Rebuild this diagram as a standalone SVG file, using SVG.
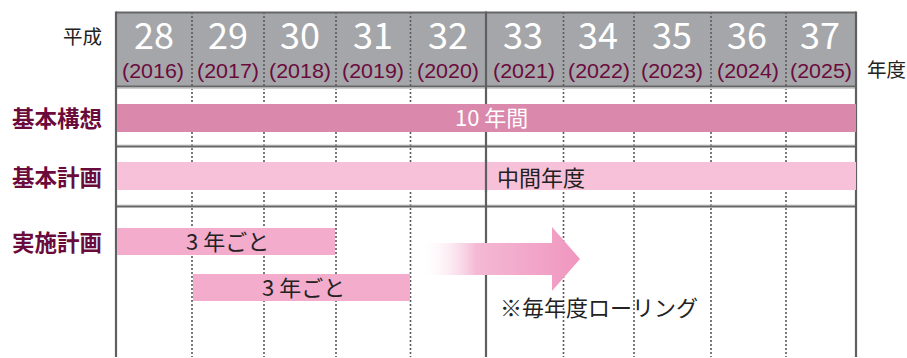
<svg xmlns="http://www.w3.org/2000/svg" width="907" height="358" viewBox="0 0 907 358">
<style>
.jp{font-family:"Noto Sans CJK JP","Noto Sans",sans-serif}
.num{font-family:"Noto Sans CJK JP","Noto Sans",sans-serif;font-size:36px;fill:#ffffff;text-anchor:middle}
.yr{font-family:"Liberation Sans",Arial,sans-serif;font-size:20.5px;fill:#6b0b3c;text-anchor:middle}
.lbl{font-family:"Noto Sans CJK JP",sans-serif;font-size:22.5px;font-weight:bold;fill:#6b0b3c}
.dot{stroke:#5a5a5a;stroke-width:1.6;stroke-dasharray:2 2;fill:none}
.solid{stroke:#5f5f5f;stroke-width:2.2;fill:none}
.hline{stroke:#666;stroke-width:2;fill:none}
.lite{stroke:#cfcfcf;stroke-width:1;fill:none}
.t{font-family:"Noto Sans CJK JP",sans-serif;font-size:22px}
</style>
<defs>
<linearGradient id="ag" gradientUnits="userSpaceOnUse" x1="420" y1="0" x2="580" y2="0">
<stop offset="0" stop-color="#ffffff" stop-opacity="0"/>
<stop offset="0.35" stop-color="#f4b9d4"/>
<stop offset="1" stop-color="#f096bf"/>
</linearGradient>
</defs>
<g id="header">
<rect x="116" y="12" width="740" height="75" fill="#a5a6aa"/>
</g>
<g id="grid">
<line class="dot" x1="192" y1="12" x2="192" y2="357"/>
<line class="dot" x1="264" y1="12" x2="264" y2="357"/>
<line class="dot" x1="336" y1="12" x2="336" y2="357"/>
<line class="dot" x1="410.5" y1="12" x2="410.5" y2="357"/>
<line class="dot" x1="563.5" y1="12" x2="563.5" y2="357"/>
<line class="dot" x1="634" y1="12" x2="634" y2="357"/>
<line class="dot" x1="711" y1="12" x2="711" y2="357"/>
<line class="dot" x1="786" y1="12" x2="786" y2="357"/>
<line class="lite" x1="116" y1="88.5" x2="856" y2="88.5"/>
<line class="lite" x1="116" y1="145" x2="856" y2="145"/>
<line class="lite" x1="116" y1="205" x2="856" y2="205"/>
<line class="hline" x1="116" y1="12.5" x2="856" y2="12.5"/>
<line class="hline" x1="116" y1="86.5" x2="856" y2="86.5"/>
<line class="hline" x1="116" y1="146.5" x2="856" y2="146.5"/>
<line class="hline" x1="116" y1="206.5" x2="856" y2="206.5"/>
<line class="solid" x1="116" y1="11.5" x2="116" y2="357"/>
<line class="solid" x1="856" y1="11.5" x2="856" y2="357"/>
<line class="solid" x1="486" y1="11.5" x2="486" y2="357"/>
</g>
<g id="years">
<text class="num" x="154" y="48.5">28</text><text class="yr" x="153" y="78" textLength="62" lengthAdjust="spacingAndGlyphs">(2016)</text>
<text class="num" x="228" y="48.5">29</text><text class="yr" x="228" y="78" textLength="62" lengthAdjust="spacingAndGlyphs">(2017)</text>
<text class="num" x="300" y="48.5">30</text><text class="yr" x="300" y="78" textLength="62" lengthAdjust="spacingAndGlyphs">(2018)</text>
<text class="num" x="373" y="48.5">31</text><text class="yr" x="373" y="78" textLength="62" lengthAdjust="spacingAndGlyphs">(2019)</text>
<text class="num" x="448" y="48.5">32</text><text class="yr" x="448" y="78" textLength="62" lengthAdjust="spacingAndGlyphs">(2020)</text>
<text class="num" x="523" y="48.5">33</text><text class="yr" x="524" y="78" textLength="62" lengthAdjust="spacingAndGlyphs">(2021)</text>
<text class="num" x="598" y="48.5">34</text><text class="yr" x="599" y="78" textLength="62" lengthAdjust="spacingAndGlyphs">(2022)</text>
<text class="num" x="672" y="48.5">35</text><text class="yr" x="672" y="78" textLength="62" lengthAdjust="spacingAndGlyphs">(2023)</text>
<text class="num" x="747" y="48.5">36</text><text class="yr" x="748" y="78" textLength="62" lengthAdjust="spacingAndGlyphs">(2024)</text>
<text class="num" x="820" y="48.5">37</text><text class="yr" x="821" y="78" textLength="62" lengthAdjust="spacingAndGlyphs">(2025)</text>
<text class="jp" x="63" y="44" font-size="19.5" fill="#222">平成</text>
<text class="jp" x="867" y="77" font-size="19.5" fill="#222">年度</text>
</g>
<g id="kihon-koso">
<text class="lbl" x="12" y="127">基本構想</text>
<rect x="117" y="104" width="739" height="28" fill="#da88ab"/>
<text class="t" x="455" y="126" font-size="21" fill="#ffffff">10 年間</text>
</g>
<g id="kihon-keikaku">
<text class="lbl" x="12" y="186">基本計画</text>
<rect x="117" y="162" width="739" height="28" fill="#f6c1d9"/>
<line class="solid" x1="486" y1="160" x2="486" y2="192"/>
<text class="t" x="497" y="186" font-size="23" fill="#222">中間年度</text>
</g>
<g id="jisshi-keikaku">
<text class="lbl" x="12" y="251">実施計画</text>
<rect x="117" y="228" width="218" height="27" fill="#f4accd"/>
<text class="t" x="186" y="250" fill="#222">3 年ごと</text>
<rect x="193" y="274" width="217" height="27" fill="#f4accd"/>
<text class="t" x="262" y="296" fill="#222">3 年ごと</text>
</g>
<g id="connectors">
<polygon points="420,243 552,243 552,227 580,259 552,291 552,275 420,275" fill="url(#ag)"/>
</g>
<g id="note">
<text class="t" x="500" y="316" font-size="21.5" fill="#222">※毎年度ローリング</text>
</g>
</svg>
